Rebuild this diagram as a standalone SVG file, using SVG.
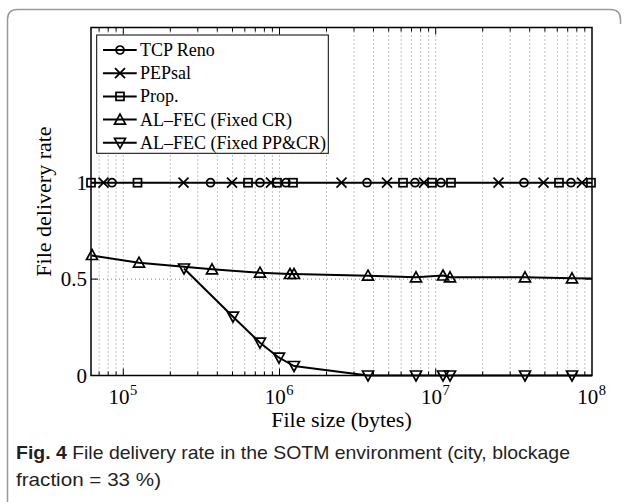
<svg xmlns="http://www.w3.org/2000/svg" xmlns:xlink="http://www.w3.org/1999/xlink" width="628" height="502" viewBox="0 0 628 502">
<style>
.frame{fill:none;stroke:#9a9a9a;stroke-width:1.5}
.axis{fill:none;stroke:#000;stroke-width:1.5}
.grid{fill:none;stroke:#666;stroke-width:0.8;stroke-dasharray:1 3}
.tick{stroke:#000;stroke-width:1}
.data{fill:none;stroke:#000;stroke-width:2;stroke-linejoin:round}
.mk{fill:none;stroke:#000;stroke-width:1.7}
.serif{font-family:"Liberation Serif","Times New Roman",serif;fill:#000}
.tl{font-size:21px}
.sup{font-size:14.5px}
.al{font-size:22px}
.lg{font-size:18px}
.cap{font-family:"Liberation Sans",Arial,sans-serif;font-size:18.5px;fill:#231f20}
</style>
<defs>
<circle id="mc" r="4" class="mk"/>
<path id="mx" d="M-5,-5L5,5M-5,5L5,-5" class="mk"/>
<rect id="ms" x="-4" y="-4" width="8" height="8" class="mk"/>
<path id="mu" d="M0,-5.5L5.5,4.5L-5.5,4.5Z" class="mk"/>
<path id="md" d="M0,5.5L5.5,-4.5L-5.5,-4.5Z" class="mk"/>
</defs>
<rect width="628" height="502" fill="#fff"/>
<path class="frame" d="M7.5,502V19.5Q7.5,9.5 17.5,9.5H610.5Q620.5,9.5 620.5,19.5V24"/>

<g id="grid">
<path class="grid" d="M99.1,27.5V375.5M108.2,27.5V375.5M116.1,27.5V375.5M123.3,27.5V375.5M170.3,27.5V375.5M197.8,27.5V375.5M217.3,27.5V375.5M232.5,27.5V375.5M244.8,27.5V375.5M255.3,27.5V375.5M264.4,27.5V375.5M272.4,27.5V375.5M279.5,27.5V375.5M326.5,27.5V375.5M354,27.5V375.5M373.5,27.5V375.5M388.7,27.5V375.5M401.1,27.5V375.5M411.5,27.5V375.5M420.6,27.5V375.5M428.6,27.5V375.5M435.7,27.5V375.5M482.7,27.5V375.5M510.2,27.5V375.5M529.7,27.5V375.5M544.9,27.5V375.5M557.3,27.5V375.5M567.7,27.5V375.5M576.8,27.5V375.5M584.8,27.5V375.5"/>
<path class="grid" d="M91,279.1H592M91,182.7H592"/>
</g>

<g id="axes">
<path class="tick" d="M123.3,375.5v-7M279.5,375.5v-7M435.7,375.5v-7M123.3,27.5v7M279.5,27.5v7M435.7,27.5v7"/>
<path class="tick" d="M99.1,375.5v-4M108.2,375.5v-4M116.1,375.5v-4M170.3,375.5v-4M197.8,375.5v-4M217.3,375.5v-4M232.5,375.5v-4M244.8,375.5v-4M255.3,375.5v-4M264.4,375.5v-4M272.4,375.5v-4M326.5,375.5v-4M354,375.5v-4M373.5,375.5v-4M388.7,375.5v-4M401.1,375.5v-4M411.5,375.5v-4M420.6,375.5v-4M428.6,375.5v-4M482.7,375.5v-4M510.2,375.5v-4M529.7,375.5v-4M544.9,375.5v-4M557.3,375.5v-4M567.7,375.5v-4M576.8,375.5v-4M584.8,375.5v-4"/>
<path class="tick" d="M99.1,27.5v4M108.2,27.5v4M116.1,27.5v4M170.3,27.5v4M197.8,27.5v4M217.3,27.5v4M232.5,27.5v4M244.8,27.5v4M255.3,27.5v4M264.4,27.5v4M272.4,27.5v4M326.5,27.5v4M354,27.5v4M373.5,27.5v4M388.7,27.5v4M401.1,27.5v4M411.5,27.5v4M420.6,27.5v4M428.6,27.5v4M482.7,27.5v4M510.2,27.5v4M529.7,27.5v4M544.9,27.5v4M557.3,27.5v4M567.7,27.5v4M576.8,27.5v4M584.8,27.5v4"/>
<path class="tick" d="M91,279.1h7M91,182.7h7M592,279.1h-7M592,182.7h-7"/>
<rect class="axis" x="91" y="27.5" width="501" height="348"/>
</g>

<g id="connectors">
<polyline id="line-tcp" class="data" points="91,182.7 592,182.7"/>
<polyline id="line-fixedcr" class="data" points="91.5,255.5 139,262.7 212,269.3 260,272.7 290,274 294,274 368,275.7 416,277.3 443,275.5 450,277.3 525,277.3 572,278.3 592,278.5"/>
<polyline id="line-fixedppcr" class="data" points="184,268.5 233,316.7 260,342.7 279,357.7 294,366 368,375.5 592,375.5"/>
</g>

<g id="tcp-reno">
<use href="#mc" x="112" y="182.7"/><use href="#mc" x="210.5" y="182.7"/><use href="#mc" x="260" y="182.7"/><use href="#mc" x="286" y="182.7"/><use href="#mc" x="367" y="182.7"/><use href="#mc" x="415" y="182.7"/><use href="#mc" x="441" y="182.7"/><use href="#mc" x="524" y="182.7"/><use href="#mc" x="571" y="182.7"/>
</g>
<g id="pepsal">
<use href="#mx" x="103.5" y="182.7"/><use href="#mx" x="183.5" y="182.7"/><use href="#mx" x="232" y="182.7"/><use href="#mx" x="271" y="182.7"/><use href="#mx" x="341.5" y="182.7"/><use href="#mx" x="387" y="182.7"/><use href="#mx" x="424" y="182.7"/><use href="#mx" x="498.5" y="182.7"/><use href="#mx" x="543.5" y="182.7"/><use href="#mx" x="582" y="182.7"/>
</g>
<g id="prop">
<use href="#ms" x="91" y="182.7"/><use href="#ms" x="137.5" y="182.7"/><use href="#ms" x="248" y="182.7"/><use href="#ms" x="277" y="182.7"/><use href="#ms" x="293" y="182.7"/><use href="#ms" x="403" y="182.7"/><use href="#ms" x="432" y="182.7"/><use href="#ms" x="451" y="182.7"/><use href="#ms" x="559" y="182.7"/><use href="#ms" x="591" y="182.7"/>
</g>
<g id="al-fec-fixed-cr">
<use href="#mu" x="92" y="255"/><use href="#mu" x="139" y="262.7"/><use href="#mu" x="212" y="269.3"/><use href="#mu" x="260" y="272.7"/><use href="#mu" x="290" y="274"/><use href="#mu" x="294" y="274"/><use href="#mu" x="368" y="275.7"/><use href="#mu" x="416" y="277.3"/><use href="#mu" x="443" y="275.5"/><use href="#mu" x="450" y="277.3"/><use href="#mu" x="525" y="277.3"/><use href="#mu" x="572" y="278.3"/>
</g>
<g id="al-fec-fixed-ppcr">
<use href="#md" x="184" y="268.5"/><use href="#md" x="233" y="316.7"/><use href="#md" x="260" y="342.7"/><use href="#md" x="279" y="357.7"/><use href="#md" x="294" y="366"/><use href="#md" x="368" y="375.5"/><use href="#md" x="416" y="375.5"/><use href="#md" x="443" y="375.5"/><use href="#md" x="450" y="375.5"/><use href="#md" x="525" y="375.5"/><use href="#md" x="572" y="375.5"/>
</g>

<g id="legend">
<rect x="96.7" y="35" width="231.6" height="118.3" fill="#fff" stroke="#000" stroke-width="1"/>
<path class="data" d="M103,50H136.7M103,73.2H136.7M103,96.4H136.7M103,119.6H136.7M103,142.8H136.7"/>
<use href="#mc" x="120" y="50"/>
<use href="#mx" x="120" y="73.2"/>
<use href="#ms" x="120" y="96.4"/>
<use href="#mu" x="120" y="119.6"/>
<use href="#md" x="120" y="142.8"/>
<text class="serif lg" x="140" y="56">TCP Reno</text>
<text class="serif lg" x="140" y="79.2">PEPsal</text>
<text class="serif lg" x="140" y="102.4">Prop.</text>
<text class="serif lg" x="140" y="125.6">AL–FEC (Fixed CR)</text>
<text class="serif lg" x="140" y="148.8">AL–FEC (Fixed PP&amp;CR)</text>
</g>

<g id="tick-labels">
<text class="serif tl" x="87" y="382.5" text-anchor="end">0</text>
<text class="serif tl" x="87" y="286.1" text-anchor="end">0.5</text>
<text class="serif tl" x="87" y="189.7" text-anchor="end">1</text>
<text class="serif tl" x="108.5" y="404.3">10</text><text class="serif sup" x="130" y="394.5">5</text>
<text class="serif tl" x="264.7" y="404.3">10</text><text class="serif sup" x="286.2" y="394.5">6</text>
<text class="serif tl" x="420.9" y="404.3">10</text><text class="serif sup" x="442.4" y="394.5">7</text>
<text class="serif tl" x="577.2" y="404.3">10</text><text class="serif sup" x="598.7" y="394.5">8</text>
</g>

<g id="axis-labels">
<text class="serif al" x="341.5" y="426.7" text-anchor="middle">File size (bytes)</text>
<text class="serif al" transform="translate(50.5,201.5) rotate(-90)" text-anchor="middle">File delivery rate</text>
</g>

<g id="caption">
<text class="cap" x="16" y="459" textLength="554" lengthAdjust="spacingAndGlyphs"><tspan font-weight="bold">Fig. 4</tspan> File delivery rate in the SOTM environment (city, blockage</text>
<text class="cap" x="16" y="486" textLength="145" lengthAdjust="spacingAndGlyphs">fraction = 33 %)</text>
</g>
</svg>
